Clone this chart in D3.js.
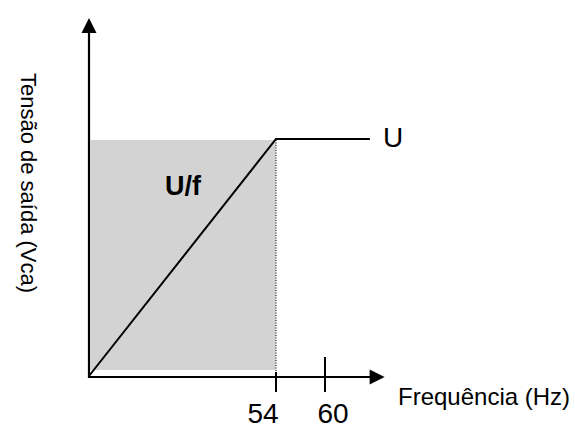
<!DOCTYPE html>
<html>
<head>
<meta charset="utf-8">
<script src="https://cdn.jsdelivr.net/npm/d3@7"></script>
<style>
  html, body { margin: 0; padding: 0; background: #fff; }
  svg { display: block; font-family: "Liberation Sans", Arial, sans-serif; }
</style>
</head>
<body>
<svg id="chart" width="575" height="428"></svg>
<script>
// schematic U/f characteristic
const tickValues = [54, 60];
const tickLabels = ['54', '60'];
const curveHz = [0, 54, 65.5];
const curveU = [0, 1, 1];
const shadeHz = [0, 54];
const shadeU = [0, 1];
const xAxisEnd = 67.3;
const yAxisEnd = 1.515;

const svg = d3.select('#chart');

// piecewise scale, the drawing is not to scale between 54 and 60
const x = d3.scaleLinear().domain([0, 54, 60]).range([89, 276, 325]);
const y = d3.scaleLinear().domain([0, 1]).range([377, 140]);

const arrowLen = 15;
const arrowHalf = 7.5;

// shaded area
svg.append('rect')
  .attr('x', x(shadeHz[0]) + 1.5)
  .attr('y', y(shadeU[1]))
  .attr('width', x(shadeHz[1]) - x(shadeHz[0]) - 1.5)
  .attr('height', y(shadeU[0]) - y(shadeU[1]) - 7)
  .attr('fill', '#d3d3d3');

// dotted line at 54 Hz
svg.append('line')
  .attr('x1', x(54)).attr('x2', x(54))
  .attr('y1', y(1)).attr('y2', y(0))
  .attr('stroke', '#000')
  .attr('stroke-width', 1)
  .attr('stroke-dasharray', '1,1.5');

// curve
const line = d3.line().x(d => x(d[0])).y(d => y(d[1]));
svg.append('path')
  .datum(d3.zip(curveHz, curveU))
  .attr('d', line)
  .attr('transform', 'translate(0,-1)')
  .attr('fill', 'none')
  .attr('stroke', '#000')
  .attr('stroke-width', 2);

// axes
const x0 = x(0), y0 = y(0);
const xTip = x(xAxisEnd), yTip = y(yAxisEnd);

svg.append('line')
  .attr('x1', x0).attr('x2', xTip - arrowLen + 1)
  .attr('y1', y0).attr('y2', y0)
  .attr('stroke', '#000').attr('stroke-width', 2.2);

svg.append('line')
  .attr('x1', x0).attr('x2', x0)
  .attr('y1', y0 + 1).attr('y2', yTip + arrowLen - 1)
  .attr('stroke', '#000').attr('stroke-width', 2.2);

svg.append('path')
  .attr('d', `M${xTip},${y0}L${xTip - arrowLen},${y0 - arrowHalf}L${xTip - arrowLen},${y0 + arrowHalf}Z`)
  .attr('fill', '#000');

svg.append('path')
  .attr('d', `M${x0},${yTip}L${x0 - arrowHalf},${yTip + arrowLen}L${x0 + arrowHalf},${yTip + arrowLen}Z`)
  .attr('fill', '#000');

// ticks
svg.selectAll('line.tick')
  .data(tickValues)
  .join('line')
  .attr('class', 'tick')
  .attr('x1', d => x(d)).attr('x2', d => x(d))
  .attr('y1', (d, i) => i === 0 ? y0 - 5 : y0 - 20)
  .attr('y2', y0 + 15)
  .attr('stroke', '#000').attr('stroke-width', 2);

svg.selectAll('text.tick')
  .data(tickValues)
  .join('text')
  .attr('class', 'tick')
  .attr('x', (d, i) => x(d) + (i === 0 ? -13 : 8))
  .attr('y', 423)
  .attr('text-anchor', 'middle')
  .attr('font-size', 28)
  .text((d, i) => tickLabels[i]);

// labels
svg.append('text')
  .attr('x', 398).attr('y', 405)
  .attr('font-size', 24)
  .text('Frequência (Hz)');

svg.append('text')
  .attr('transform', 'translate(21,183) rotate(90)')
  .attr('text-anchor', 'middle')
  .attr('font-size', 22)
  .text('Tensão de saída (Vca)');

svg.append('text')
  .attr('x', x(65.5) + 13).attr('y', y(1) + 7)
  .attr('font-size', 28)
  .text('U');

svg.append('text')
  .attr('x', 165).attr('y', 195)
  .attr('font-size', 27)
  .attr('font-weight', 'bold')
  .text('U/f');
</script>
</body>
</html>
